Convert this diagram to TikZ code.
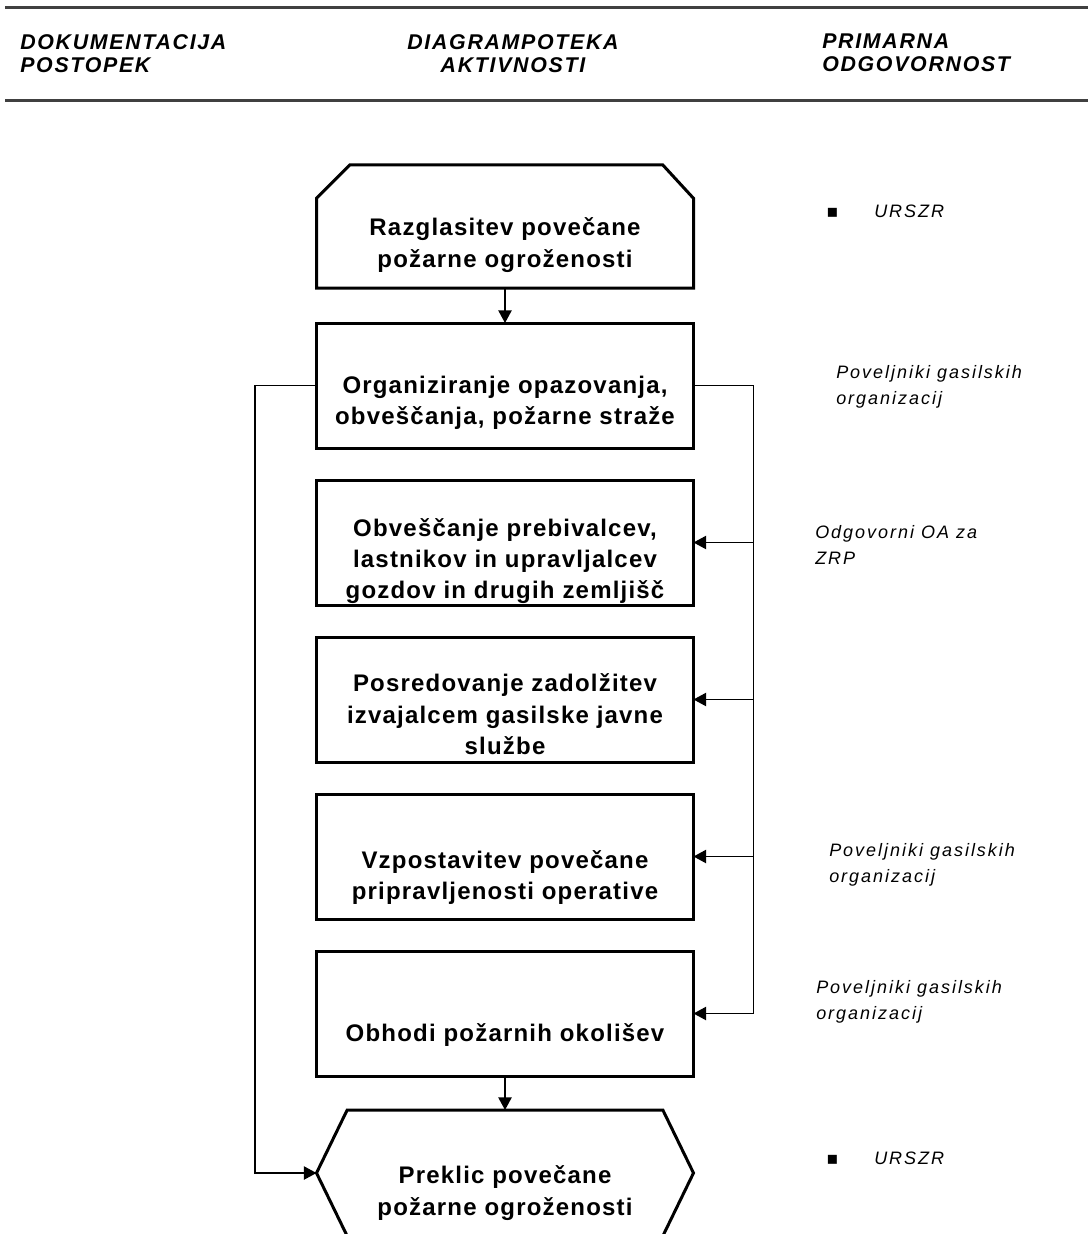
\documentclass[tikz,border=0pt]{standalone}
\usepackage{fontspec}
\setmainfont{Liberation Sans}
\newfontfamily\boxfont[LetterSpace=5]{Liberation Sans}
\newfontfamily\notefont[LetterSpace=11]{Liberation Sans}
\newfontfamily\headfont[LetterSpace=8]{Liberation Sans}
\newfontfamily\symfont{DejaVu Sans}
\usetikzlibrary{arrows.meta,positioning}
\tikzset{
frame/.style={draw=none, minimum width=282.75pt, minimum height=93.75pt, inner sep=0pt, outer sep=0pt}, % empty node, outline drawn by hand
box/.style={frame, draw, line width=2.25pt}, % activity box
outline/.style={line width=2.25pt, line join=miter},
boxtext/.style={align=center, inner sep=0pt, font=\boxfont\bfseries\fontsize{18pt}{23.5pt}\selectfont},
note/.style={align=left, anchor=north west, inner sep=0pt, font=\notefont\itshape\fontsize{13.5pt}{20pt}\selectfont},
head/.style={align=left, anchor=north west, inner sep=0pt, font=\headfont\bfseries\itshape\fontsize{16pt}{17.25pt}\selectfont},
rule/.style={line width=2.25pt, black!75},
conn/.style={line width=1.1pt}, % plain connector
arr/.style={conn, -{Triangle[length=9.5pt,width=10pt]}}, % connector with arrow head
}
\begin{document}
\begin{tikzpicture}[x=0.75pt, y=-0.75pt]
\useasboundingbox (0,0) rectangle (1088,1234);

% header
\draw[rule] (5,8) -- (1088,8);
\draw[rule] (5,101) -- (1088,101);
\node[head] (hdok) at (20,34) {DOKUMENTACIJA\\POSTOPEK};
\node[head, align=center, anchor=north] (hdia) at (513,34) {DIAGRAMPOTEKA\\AKTIVNOSTI};
\node[head] (hodg) at (822,34) {PRIMARNA\\ODGOVORNOST};

% start shape
\node[frame, minimum height=92.25pt] (razg) at (505,226.5) {};
\draw[outline] (razg.south west) -- ([yshift=-25pt]razg.north west) -- ([xshift=25pt]razg.north west)
  -- ([xshift=-23pt]razg.north east) -- ([yshift=-25pt]razg.north east) -- (razg.south east) -- cycle;
\node[boxtext] (razgT) at ([yshift=-14pt]razg) {Razglasitev povečane\\požarne ogroženosti};

% activities
\node[box] (org) at (505,385.5) {};
\node[box, below=24pt of org] (obv) {};
\node[box, below=24pt of obv] (posr) {};
\node[box, below=24pt of posr] (vzp) {};
\node[box, below=24pt of vzp] (obh) {};
\node[boxtext] (orgT) at ([yshift=-13pt]org) {Organiziranje opazovanja,\\obveščanja, požarne straže};
\node[boxtext] (obvT) at ([yshift=-14pt]obv) {Obveščanje prebivalcev,\\lastnikov in upravljalcev\\gozdov in drugih zemljišč};
\node[boxtext] (posrT) at ([yshift=-11pt]posr) {Posredovanje zadolžitev\\izvajalcem gasilske javne\\službe};
\node[boxtext] (vzpT) at ([yshift=-16pt]vzp) {Vzpostavitev povečane\\pripravljenosti operative};
\node[boxtext] (obhT) at ([yshift=-16pt]obh) {Obhodi požarnih okolišev};

% end shape
\node[frame, minimum height=94.5pt] (prek) at (505,1173) {};
\draw[outline] ([xshift=23pt]prek.north west) -- ([xshift=-23pt]prek.north east) -- (prek.east)
  -- ([xshift=-23pt]prek.south east) -- ([xshift=23pt]prek.south west) -- (prek.west) -- cycle;
\node[boxtext] (prekT) at ([yshift=-15pt]prek) {Preklic povečane\\požarne ogroženosti};

% connectors
\draw[arr] (razg) -- (org);
\draw[arr] (obh) -- (prek);
\coordinate (rbus) at ([xshift=45pt]org.east);
\coordinate (lbus) at ([xshift=-46pt]org.west);
\draw[conn] (org.east) -- (rbus) -- (rbus |- obh.east);
\foreach \b in {obv,posr,vzp,obh}
  \draw[arr] (rbus |- \b.east) -- (\b.east);
\draw[arr] (org.west) -- (lbus) |- (prek.west);

% responsibilities
\node[note] (odg1) at (826,205) {\makebox[36pt][l]{\symfont ▪}URSZR};
\node[note] (odg2) at (836,365) {Poveljniki gasilskih\\organizacij};
\node[note] (odg3) at (815,525) {Odgovorni OA za\\ZRP};
\node[note] (odg4) at (829,843) {Poveljniki gasilskih\\organizacij};
\node[note] (odg5) at (816,980) {Poveljniki gasilskih\\organizacij};
\node[note] (odg6) at (826,1152) {\makebox[36pt][l]{\symfont ▪}URSZR};
\end{tikzpicture}
\end{document}
